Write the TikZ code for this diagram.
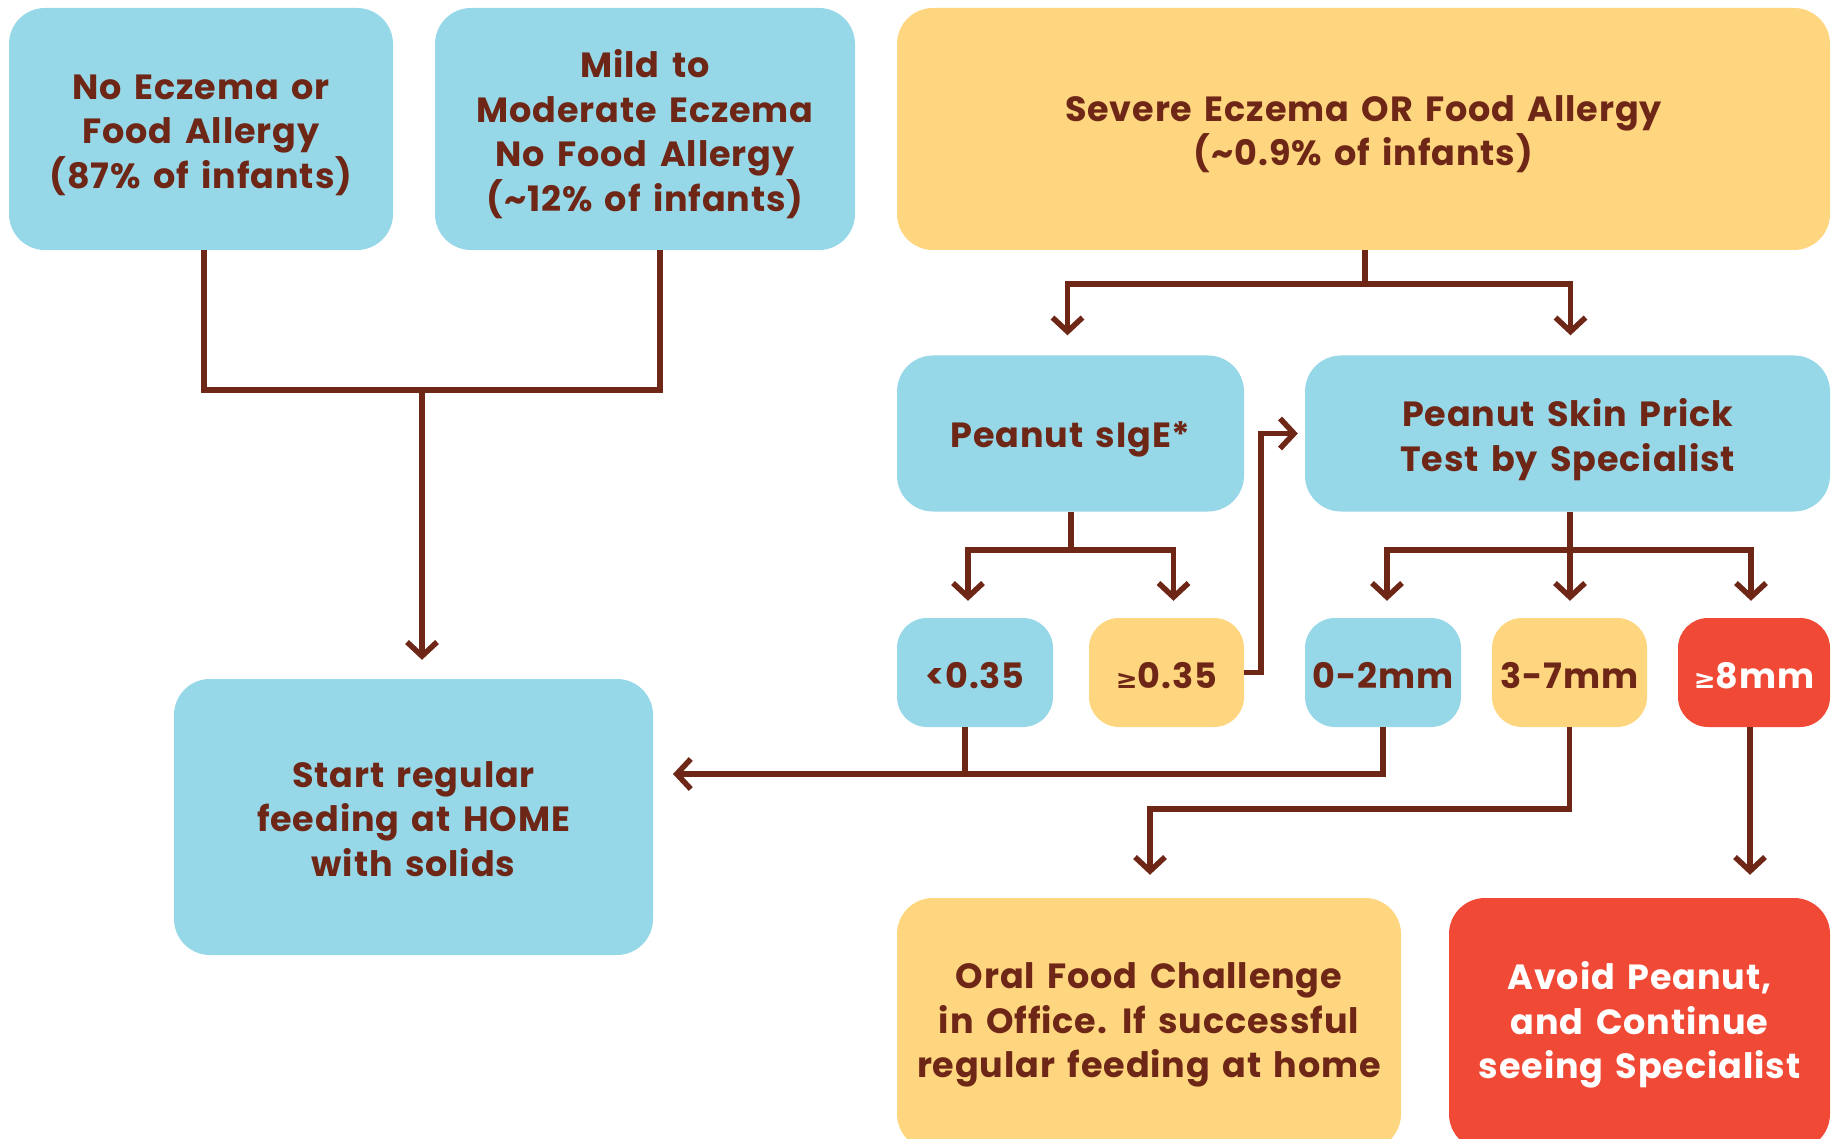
\documentclass[tikz,border=0pt]{standalone}
\usepackage{fontspec}
\setmainfont{Poppins}[LetterSpace=2.5, WordSpace=1.5]
\newfontfamily\symf{DejaVu Sans}
\usetikzlibrary{arrows.meta,calc}
\definecolor{cblue}{RGB}{151,216,232}
\definecolor{cyel}{RGB}{253,214,127}
\definecolor{cred}{RGB}{240,74,55}
\definecolor{cbrown}{RGB}{110,38,22}
\newcommand{\mygeq}{{\symf\fontsize{26}{30}\selectfont ≥}}
\tikzset{
  box/.style={rounded corners=36pt, inner sep=0pt, align=center, text=cbrown,
    font=\bfseries\fontsize{35}{44.5}\selectfont},
  bluebox/.style={box, fill=cblue},
  yelbox/.style={box, fill=cyel},
  redbox/.style={box, fill=cred, text=white},
  conn/.style={draw=cbrown, line width=5.5pt},
  arr/.style={conn, -{Straight Barb[length=14pt,width=30pt]}},
  txt/.style={inner sep=0pt, align=center, text=cbrown, font=\bfseries\fontsize{35}{44.5}\selectfont},
}
\begin{document}
\begin{tikzpicture}[x=1pt,y=-1pt]
\clip (0,0) rectangle (1832,1139);
\useasboundingbox (0,0) rectangle (1832,1139);
% top row
\node[bluebox, minimum width=384pt, minimum height=242pt] (A) at (201,129) {};
\node[txt] (At) at ($(A.center)+(0,6)$) {No Eczema or\\Food Allergy\\(87\% of infants)};
\node[bluebox, minimum width=420pt, minimum height=242pt] (B) at (645,129) {};
\node[txt] (Bt) at ($(B.center)+(0,5)$) {Mild to\\Moderate Eczema\\No Food Allergy\\(\textasciitilde12\% of infants)};
\node[yelbox, minimum width=933pt, minimum height=242pt] (C) at (1363.5,129) {};
\node[txt] (Ct) at ($(C.center)+(0,5)$) {Severe Eczema OR Food Allergy\\(\textasciitilde0.9\% of infants)};
% second row
\node[bluebox, minimum width=347pt, minimum height=156pt] (D) at (1070.5,433.5) {};
\node[txt] (Dt) at ($(D.center)+(0,6)$) {Peanut sIgE*};
\node[bluebox, minimum width=525pt, minimum height=156pt] (E) at (1567.5,433.5) {};
\node[txt] (Et) at ($(E.center)+(0,6)$) {Peanut Skin Prick\\Test by Specialist};
% small boxes
\node[bluebox, minimum width=156pt, minimum height=109pt, rounded corners=30pt] (F) at (975,672.5) {};
\node[txt] (Ft) at ($(F.center)+(0,3)$) {<0.35};
\node[yelbox, minimum width=155pt, minimum height=109pt, rounded corners=30pt] (G) at (1166.5,672.5) {};
\node[txt] (Gt) at ($(G.center)+(0,3)$) {\mygeq0.35};
\node[bluebox, minimum width=156pt, minimum height=109pt, rounded corners=30pt] (H) at (1383,672.5) {};
\node[txt] (Ht) at ($(H.center)+(0,3)$) {0-2mm};
\node[yelbox, minimum width=155pt, minimum height=109pt, rounded corners=30pt] (I) at (1569.5,672.5) {};
\node[txt] (It) at ($(I.center)+(0,3)$) {3-7mm};
\node[redbox, minimum width=152pt, minimum height=109pt, rounded corners=30pt] (J) at (1754,672.5) {};
\node[txt, text=white] (Jt) at ($(J.center)+(0,3)$) {\mygeq8mm};
% outcomes
\node[bluebox, minimum width=479pt, minimum height=276pt] (K) at (413.5,817) {};
\node[txt] (Kt) at ($(K.center)+(0,2)$) {Start regular\\feeding at HOME\\with solids};
\node[yelbox, minimum width=504pt, minimum height=252pt] (L) at (1149,1024) {};
\node[txt] (Lt) at ($(L.center)+(0,1)$) {Oral Food Challenge\\in Office. If successful\\regular feeding at home};
\node[redbox, minimum width=381pt, minimum height=252pt] (M) at (1639.5,1024) {};
\node[txt, text=white] (Mt) at ($(M.center)+(0,1)$) {Avoid Peanut,\\and Continue\\seeing Specialist};
% connectors top-left
\coordinate (j1) at (422,390);
\draw[conn] ($(A.south)+(3,0)$) |- (j1) -| ($(B.south)+(15,0)$);
\draw[arr, shorten >=19pt] (j1) -- (j1 |- K.north);
% from C
\coordinate (c1) at (1365,284);
\draw[conn] (C.south -| c1) -- (c1);
\draw[arr, shorten >=20pt] (c1) -| ($(D.north)+(-3,0)$);
\draw[arr, shorten >=20pt] (c1) -| ($(E.north)+(3,0)$);
% from D
\coordinate (d1) at (1071,550);
\draw[conn] (D.south -| d1) -- (d1);
\draw[arr, shorten >=17pt] (d1) -| ($(F.north)+(-7,0)$);
\draw[arr, shorten >=17pt] (d1) -| ($(G.north)+(7,0)$);
% from E
\coordinate (e1) at (1570,550);
\draw[conn] (E.south -| e1) -- (e1);
\draw[arr, shorten >=17pt] (e1) -| ($(H.north)+(4,0)$);
\draw[arr, shorten >=17pt] (e1) -- (e1 |- I.north);
\draw[arr, shorten >=17pt] (e1) -| ($(J.north)+(-3,0)$);
% G to E
\draw[arr, shorten >=7pt] (G.east) -- ++(17,0) |- (E.west);
% F, H to K
\coordinate (kin) at (673,774);
\draw[arr] (H.south) |- (kin);
\draw[conn] ($(F.south)+(-10,0)$) -- ($(F.south |- kin)+(-10,0)$);
% I to L
\coordinate (i1) at (1150,809);
\draw[arr, shorten >=23pt] (I.south) |- (i1) -- (i1 |- L.north);
% J to M
\draw[arr, shorten >=23pt] ($(J.south)+(-4,0)$) -- ($(J.south |- M.north)+(-4,0)$);
\end{tikzpicture}
\end{document}
